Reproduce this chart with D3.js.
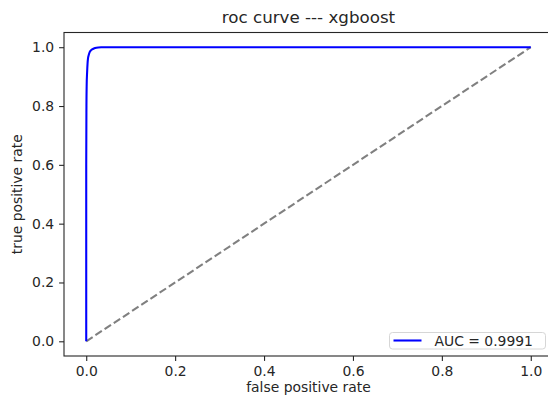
<!DOCTYPE html>
<html>
<head>
<meta charset="utf-8">
<script src="https://cdn.jsdelivr.net/npm/d3@7"></script>
<style>
  body { margin: 0; background: #fff; }
  text { font-family: "DejaVu Sans", sans-serif; fill: #262626; }
</style>
</head>
<body>
<svg id="chart"></svg>
<script>
// datos de la curva roc
let fpr = [0, 0, 0.0005, 0.001, 0.002, 0.003, 0.004, 0.006, 0.008, 0.011, 0.015, 0.02, 0.027, 0.035, 0.045, 1.0];
let tpr = [0, 0.60, 0.80, 0.87, 0.915, 0.945, 0.962, 0.975, 0.984, 0.990, 0.994, 0.997, 0.999, 0.9997, 1.0, 1.0];
let diagonal = [0, 1];
let ticks = [0, 0.2, 0.4, 0.6, 0.8, 1.0];
let legendLabel = "AUC = 0.9991";

let svgWidth = 548;
let svgHeight = 404;

let svg = d3.select('#chart')
  .attr("width", svgWidth)
  .attr("height", svgHeight);

// area del grafico (limites de matplotlib con margen de 0.05)
let mLeft = 64, mRight = 553, mTop = 32.5, mBottom = 356;

let x = d3.scaleLinear().domain([-0.05, 1.05]).range([mLeft, mRight]);
let y = d3.scaleLinear().domain([-0.05, 1.05]).range([mBottom, mTop]);

// linea diagonal punteada
svg.append("path")
  .datum(diagonal)
  .attr("d", d3.line().x(d => x(d)).y(d => y(d)))
  .attr("fill", "none")
  .attr("stroke", "#808080")
  .attr("stroke-width", 2.08)
  .attr("stroke-dasharray", "7.7,3.3");

// curva roc
let puntos = fpr.map((f, i) => [f, tpr[i]]);
svg.append("path")
  .datum(puntos)
  .attr("d", d3.line().x(d => x(d[0])).y(d => y(d[1])).curve(d3.curveMonotoneX))
  .attr("fill", "none")
  .attr("stroke", "#0000ff")
  .attr("stroke-width", 2.08)
  .attr("stroke-linejoin", "round");

// ejes
let xAxis = d3.axisBottom(x).tickValues(ticks).tickFormat(d3.format(".1f")).tickSizeOuter(0).tickSize(4.9).tickPadding(4.9);
let yAxis = d3.axisLeft(y).tickValues(ticks).tickFormat(d3.format(".1f")).tickSizeOuter(0).tickSize(4.9).tickPadding(4.9);

let gx = svg.append("g").attr("transform", "translate(0," + mBottom + ")").call(xAxis);
let gy = svg.append("g").attr("transform", "translate(" + mLeft + ",0)").call(yAxis);

[gx, gy].forEach(g => {
  g.select(".domain").remove();
  g.selectAll(".tick line").attr("stroke", "#262626").attr("stroke-width", 1.1);
  g.selectAll(".tick text").style("font-size", "13.9px").attr("fill", "#262626");
});

// bordes del grafico
svg.append("rect")
  .attr("x", mLeft).attr("y", mTop)
  .attr("width", mRight - mLeft).attr("height", mBottom - mTop)
  .attr("fill", "none")
  .attr("stroke", "#262626")
  .attr("stroke-width", 1.1);

// titulo y etiquetas
svg.append("text")
  .attr("x", (mLeft + mRight) / 2).attr("y", 23)
  .attr("text-anchor", "middle")
  .style("font-size", "16.7px")
  .text("roc curve --- xgboost");

svg.append("text")
  .attr("x", (mLeft + mRight) / 2).attr("y", 392)
  .attr("text-anchor", "middle")
  .style("font-size", "13.9px")
  .text("false positive rate");

svg.append("text")
  .attr("transform", "translate(22," + ((mTop + mBottom) / 2) + ") rotate(-90)")
  .attr("text-anchor", "middle")
  .style("font-size", "13.9px")
  .text("true positive rate");

// leyenda
let leg = svg.append("g").attr("transform", "translate(389.5,332.5)");
leg.append("rect")
  .attr("width", 156).attr("height", 16.5)
  .attr("rx", 3)
  .attr("fill", "#fff")
  .attr("stroke", "#d6d6d6")
  .attr("stroke-width", 1);
leg.append("line")
  .attr("x1", 4).attr("x2", 32)
  .attr("y1", 8).attr("y2", 8)
  .attr("stroke", "#0000ff")
  .attr("stroke-width", 2.08);
leg.append("text")
  .attr("x", 45).attr("y", 13)
  .style("font-size", "13.9px")
  .text(legendLabel);
</script>
</body>
</html>
